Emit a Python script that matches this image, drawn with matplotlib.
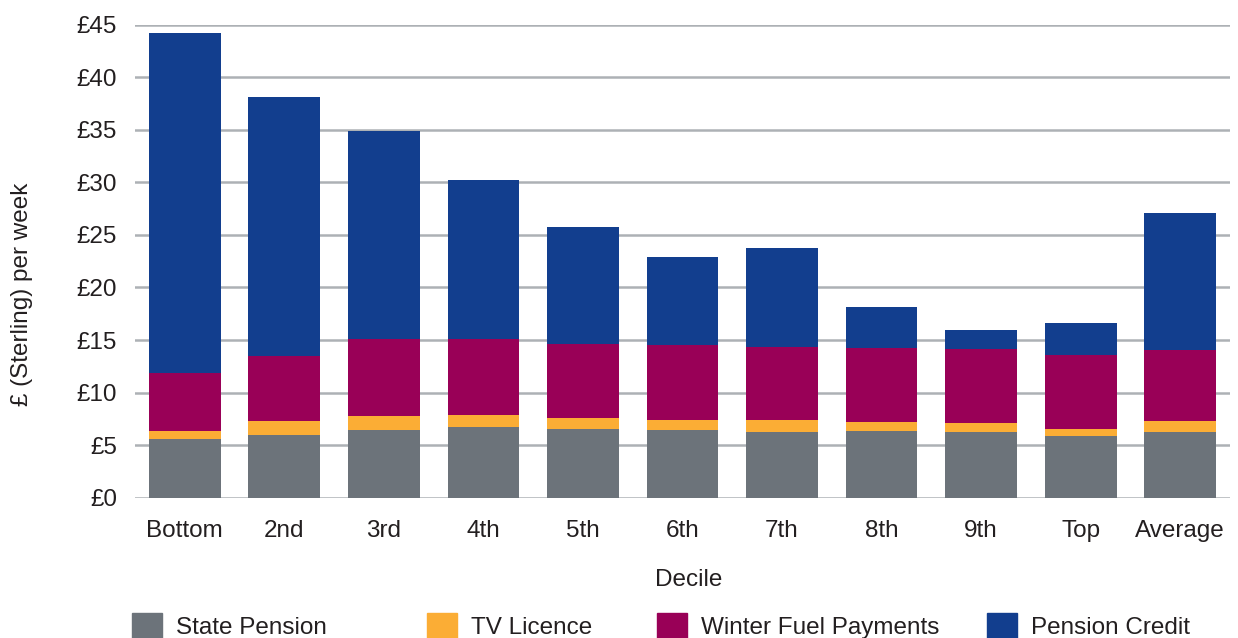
import matplotlib
matplotlib.use("Agg")
import matplotlib.pyplot as plt
from matplotlib.patches import Patch
import numpy as np

plt.rcParams['font.family'] = ['Liberation Sans', 'DejaVu Sans']

deciles = ["Bottom", "2nd", "3rd", "4th", "5th", "6th", "7th", "8th", "9th", "Top", "Average"]
state_pension = [5.58, 5.97, 6.44, 6.73, 6.54, 6.44, 6.25, 6.35, 6.25, 5.87, 6.25]
tv_licence = [0.77, 1.33, 1.33, 1.14, 1.04, 0.95, 1.14, 0.85, 0.86, 0.67, 1.05]
winter_fuel = [5.52, 6.21, 7.33, 7.23, 7.07, 7.14, 6.95, 7.07, 7.04, 7.04, 6.78]
pension_credit = [32.33, 24.59, 19.80, 15.10, 11.15, 8.37, 9.46, 3.83, 1.79, 3.04, 13.02]
series_names = ["State Pension", "TV Licence", "Winter Fuel Payments", "Pension Credit"]
y_ticks = [0, 5, 10, 15, 20, 25, 30, 35, 40, 45]
y_tick_labels = ["£0", "£5", "£10", "£15", "£20", "£25", "£30", "£35", "£40", "£45"]

colors = ["#6c737a", "#fbad35", "#990057", "#123e8e"]
text_color = "#231f20"
fs = 17.5

W, H = 1238, 638
fig = plt.figure(figsize=(W/100, H/100), dpi=100)
ax = fig.add_axes([135/W, 1 - 497.7/H, (1230-135)/W, (497.7-24.7)/H])

x = np.arange(len(deciles))
bottom = np.zeros(len(deciles))
for vals, c, name in zip([state_pension, tv_licence, winter_fuel, pension_credit], colors, series_names):
    ax.bar(x, vals, width=0.72, bottom=bottom, color=c, label=name, zorder=3)
    bottom += np.array(vals)

ax.set_xlim(-0.5, len(deciles) - 0.5)
ax.set_ylim(0, 45)
ax.set_yticks(y_ticks)
ax.set_yticklabels(y_tick_labels)
ax.set_xticks(x)
ax.set_xticklabels(deciles)
ax.tick_params(axis='both', length=0, labelsize=fs, colors=text_color)
ax.tick_params(axis='x', pad=16)
ax.tick_params(axis='y', pad=13)
for s in ax.spines.values():
    s.set_visible(False)
ax.yaxis.grid(True, color="#adb1b5", linewidth=1.8, zorder=0)
ax.set_axisbelow(True)

fig.text(22/W, 1 - 294/H, "£ (Sterling) per week", fontsize=fs, color=text_color,
         rotation=90, ha="center", va="center")
fig.text(689/W, 1 - 580/H, "Decile", fontsize=fs, color=text_color, ha="center", va="center")

legend_x = [132, 427, 657, 987]
for name, c, lx in zip(series_names, colors, legend_x):
    h = [Patch(facecolor=c, edgecolor=c)]
    leg = fig.legend(h, [name], loc="center left", bbox_to_anchor=(lx/W, 1 - 626/H),
                     frameon=False, fontsize=fs, handlelength=1.23, handleheight=1.23,
                     handletextpad=0.6, borderpad=0, borderaxespad=0)
    for t in leg.get_texts():
        t.set_color(text_color)

fig.savefig("out.png", dpi=100)
